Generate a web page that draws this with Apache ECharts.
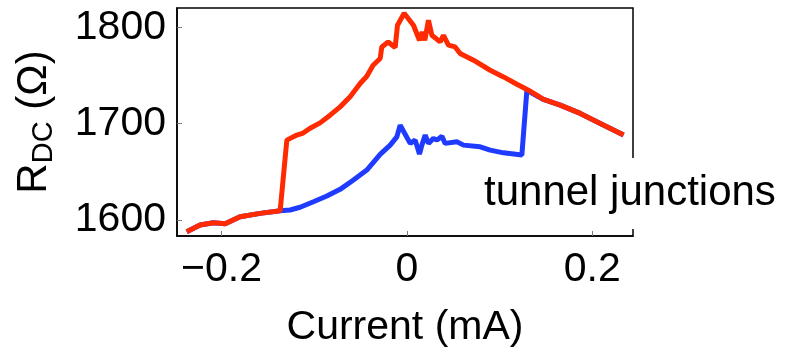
<!DOCTYPE html>
<html>
<head>
<meta charset="utf-8">
<script src="https://cdn.jsdelivr.net/npm/echarts@6/dist/echarts.min.js"></script>
<style>html,body{margin:0;padding:0;background:#fff}#c{width:793px;height:347px}</style>
</head>
<body>
<div id="c"></div>
<script>
const xTicks = [-0.2, 0, 0.2];
const yTicks = [1600, 1700, 1800];
const redI = [-0.2375,-0.2231,-0.2087,-0.1961,-0.1799,-0.1583,-0.1367,-0.1295,-0.1187,-0.1119,-0.1044,-0.0936,-0.0828,-0.0720,-0.0612,-0.0504,-0.0432,-0.0364,-0.0288,-0.0270,-0.0202,-0.0126,-0.0101,-0.0029,0.0071,0.0136,0.0165,0.0194,0.0233,0.0270,0.0359,0.0395,0.0449,0.0521,0.0575,0.0719,0.0899,0.1043,0.1187,0.1312,0.1474,0.1655,0.1871,0.2087,0.2338];
const redR = [1587.9,1594.8,1597.2,1596.0,1603.4,1606.9,1609.6,1682.9,1688.1,1690.2,1695.3,1700.8,1708.8,1717.4,1727.8,1741.7,1749.2,1760.6,1767.6,1779.6,1784.8,1779.0,1802.1,1814.5,1802.1,1786.5,1795.1,1786.5,1807.3,1791.7,1784.8,1791.7,1781.4,1779.6,1772.8,1765.8,1755.4,1748.5,1740.9,1734.7,1725.1,1719.2,1710.6,1700.2,1688.1];
const blueI = [-0.2375,-0.2231,-0.2087,-0.1961,-0.1799,-0.1583,-0.1367,-0.1260,-0.1152,-0.1008,-0.0863,-0.0720,-0.0576,-0.0432,-0.0288,-0.0180,-0.0108,-0.0072,0.0036,0.0090,0.0136,0.0162,0.0198,0.0233,0.0287,0.0324,0.0378,0.0413,0.0540,0.0611,0.0791,0.0899,0.1043,0.1241,0.1295,0.1474,0.1655,0.1871,0.2087,0.2338];
const blueR = [1587.9,1594.8,1597.2,1596.0,1603.4,1606.9,1609.6,1610.4,1613.2,1619.0,1624.9,1631.8,1641.5,1651.8,1668.1,1677.7,1686.3,1698.4,1679.5,1682.9,1668.4,1677.7,1688.1,1679.5,1684.7,1682.9,1687.0,1679.5,1681.1,1677.7,1676.0,1672.5,1669.7,1667.4,1734.7,1725.1,1719.2,1710.6,1700.2,1688.1];

const FONT = '"Liberation Sans", Arial, sans-serif';
const pairs = (a, b) => a.map((v, i) => [v, b[i]]);
const chart = echarts.init(document.getElementById('c'), null, {renderer: 'canvas'});
chart.setOption({
  animation: false,
  backgroundColor: '#fff',
  grid: {left: 177, right: 160, top: 8, bottom: 111, containLabel: false, outerBoundsMode: 'none',
    show: true, borderColor: '#000', borderWidth: 1.5, backgroundColor: 'transparent'},
  xAxis: {
    type: 'value', min: -0.248, max: 0.244,
    name: 'Current (mA)', nameLocation: 'middle', nameGap: 71,
    nameTextStyle: {fontFamily: FONT, fontSize: 41, color: '#000'},
    axisLine: {show: true, onZero: false, lineStyle: {color: '#000', width: 1.5}},
    axisTick: {show: true, inside: true, length: 5, customValues: xTicks, lineStyle: {color: '#777', width: 1}},
    axisLabel: {customValues: xTicks, margin: 13, fontFamily: FONT, fontSize: 41, color: '#000',
      formatter: v => v === 0 ? '0' : v.toFixed(1).replace('-', '\u2212')},
    splitLine: {show: false}
  },
  yAxis: {
    type: 'value', min: 1583.4, max: 1820,
    name: '{a|R}{b|DC}{a| (Ω)}', nameLocation: 'middle', nameGap: 119,
    nameTextStyle: {fontFamily: FONT, fontSize: 41, color: '#000',
      rich: {a: {fontFamily: FONT, fontSize: 42, color: '#000'},
             b: {fontFamily: FONT, fontSize: 29, color: '#000', padding: [18, 0, 0, 0]}}},
    axisLine: {show: true, onZero: false, lineStyle: {color: '#000', width: 1.5}},
    axisTick: {show: true, inside: true, length: 5, customValues: yTicks, lineStyle: {color: '#777', width: 1}},
    axisLabel: {customValues: yTicks, margin: 11, fontFamily: FONT, fontSize: 41, color: '#000',
      formatter: v => String(v)},
    splitLine: {show: false}
  },
  series: [
    {type: 'line', data: pairs(blueI, blueR), showSymbol: false, symbol: 'none', lineStyle: {color: '#1f3bff', width: 5}, z: 2},
    {type: 'line', data: pairs(redI, redR), showSymbol: false, symbol: 'none', lineStyle: {color: '#ff2a00', width: 5}, z: 3}
  ],
  graphic: [
    {type: 'rect', shape: {x: 471, y: 158, width: 322, height: 71}, style: {fill: '#fff'}, z: 100},
    {type: 'text', x: 484, y: 193, style: {text: 'tunnel junctions', font: '42px "Liberation Sans", Arial, sans-serif', fill: '#000', textVerticalAlign: 'middle'}, z: 101}
  ]
});
</script>
</body>
</html>
